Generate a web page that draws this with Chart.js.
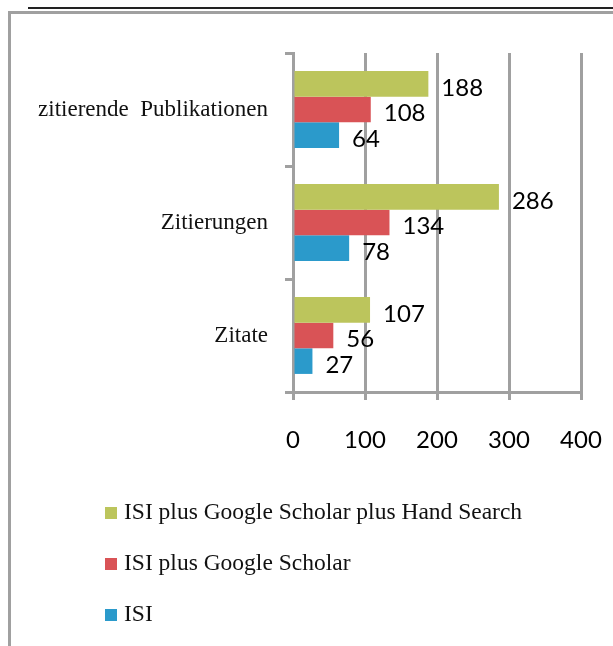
<!DOCTYPE html>
<html>
<head>
<meta charset="utf-8">
<script src="https://cdn.jsdelivr.net/npm/chart.js@4/dist/chart.umd.min.js"></script>
<style>
  html, body { margin: 0; padding: 0; background: #fff; }
  .wrap { position: relative; width: 613px; height: 646px; overflow: hidden; }
  .topline { position: absolute; left: 28px; top: 7px; right: 0; height: 2px; background: #222; }
  .frame { position: absolute; left: 8px; top: 11px; right: -10px; bottom: -10px; border-left: 3px solid #a0a0a0; border-top: 3px solid #a0a0a0; }
  canvas { position: absolute; left: 0; top: 0; }
  .legend { position: absolute; left: 105px; top: 498px; font-family: "Liberation Serif", serif; font-size: 23.5px; color: #111; }
  .legend-item { height: 51px; display: flex; align-items: flex-start; }
  .legend-box { width: 12px; height: 12px; margin-top: 9px; margin-right: 7px; }
</style>
</head>
<body>
<div class="wrap">
  <div class="topline"></div>
  <div class="frame"></div>
  <canvas id="chart" width="613" height="646"></canvas>
  <div class="legend" id="legend"></div>
</div>
<script>
const categories = ['zitierende  Publikationen', 'Zitierungen', 'Zitate']
const seriesNames = ['ISI plus Google Scholar plus Hand Search', 'ISI plus Google Scholar', 'ISI']
const handSearch = [188, 286, 107]
const googleScholar = [108, 134, 56]
const isi = [64, 78, 27]
const xTicks = [0, 100, 200, 300, 400]

const colors = ['#bcc55c', '#d95356', '#2b9acb']

const gridColor = '#a0a0a0'
const numFont = 'Lato, "Open Sans", sans-serif'

// draw value labels right of each bar
const valueLabels = {
  id: 'valueLabels',
  afterDatasetsDraw(chart) {
    const ctx = chart.ctx
    ctx.save()
    ctx.font = '24px ' + numFont
    ctx.fillStyle = '#000'
    ctx.textAlign = 'left'
    ctx.textBaseline = 'middle'
    chart.data.datasets.forEach((ds, i) => {
      const meta = chart.getDatasetMeta(i)
      meta.data.forEach((bar, j) => {
        ctx.fillText(String(ds.data[j]), bar.x + 13, bar.y + 4)
      })
    })
    ctx.restore()
  }
}

const ctx = document.getElementById('chart').getContext('2d')

const chart = new Chart(ctx, {
  type: 'bar',
  data: {
    labels: categories,
    datasets: [
      { label: seriesNames[0], data: handSearch, backgroundColor: colors[0] },
      { label: seriesNames[1], data: googleScholar, backgroundColor: colors[1] },
      { label: seriesNames[2], data: isi, backgroundColor: colors[2] },
    ],
  },
  options: {
    indexAxis: 'y',
    responsive: false,
    animation: false,
    categoryPercentage: 0.68,
    barPercentage: 1.0,
    layout: {
      padding: { top: 53, right: 32, left: 0, bottom: 194 },
    },
    plugins: {
      legend: { display: false },
      tooltip: { enabled: false },
    },
    scales: {
      x: {
        min: 0,
        max: 400,
        afterFit: (scale) => {
          scale.height = 60
          scale.paddingLeft = 0
          scale.paddingRight = 0
        },
        afterBuildTicks: (scale) => { scale.ticks = xTicks.map((v) => ({ value: v })) },
        grid: {
          color: gridColor,
          lineWidth: 3,
          drawTicks: true,
          tickLength: 8,
        },
        border: { display: true, color: gridColor, width: 3 },
        ticks: {
          padding: 26,
          color: '#000',
          font: { family: numFont, size: 24 },
        },
      },
      y: {
        afterFit: (scale) => {
          scale.width = 293
          scale.paddingTop = 0
          scale.paddingBottom = 0
        },
        grid: {
          offset: true,
          drawOnChartArea: false,
          drawTicks: true,
          tickLength: 8,
          color: gridColor,
          lineWidth: 3,
        },
        border: { display: true, color: gridColor, width: 3 },
        ticks: {
          padding: 17,
          color: '#111',
          font: { family: '"Liberation Serif", serif', size: 23 },
        },
      },
    },
  },
  plugins: [valueLabels],
})

// legend built from the datasets
const legend = document.getElementById('legend')
chart.data.datasets.forEach((ds) => {
  const item = document.createElement('div')
  item.className = 'legend-item'
  const box = document.createElement('span')
  box.className = 'legend-box'
  box.style.background = ds.backgroundColor
  const text = document.createElement('span')
  text.textContent = ds.label
  item.appendChild(box)
  item.appendChild(text)
  legend.appendChild(item)
})
</script>
</body>
</html>
